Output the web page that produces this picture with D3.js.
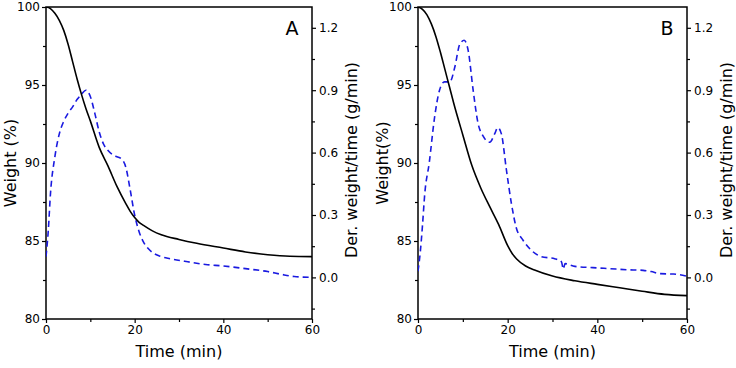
<!DOCTYPE html>
<html>
<head>
<meta charset="utf-8">
<script src="https://cdn.jsdelivr.net/npm/d3@7"></script>
<style>
  body { margin: 0; background: #fff; }
  text { font-family: "DejaVu Sans", Verdana, sans-serif; fill: #000; }
</style>
</head>
<body>
<div id="chart"></div>
<script>
// Panel A - weight loss (%) and derivative (g/min) vs time (min)
const timeWeightA = [0, 1, 2, 3, 4, 5, 6, 7, 8, 9, 10, 12, 14, 16, 18, 19, 20, 21, 22, 24, 26, 30, 34, 40, 45, 50, 55, 60];
const weightA = [100, 99.9, 99.6, 99.15, 98.5, 97.6, 96.5, 95.4, 94.4, 93.5, 92.7, 91.0, 89.8, 88.5, 87.4, 86.9, 86.5, 86.2, 86.0, 85.65, 85.4, 85.1, 84.85, 84.55, 84.3, 84.12, 84.02, 84.0];
const timeDerivA = [0, 0.5, 1, 2, 3, 4, 5, 6, 7, 8, 9, 10, 11, 12, 13, 14, 15, 16, 17, 18, 19, 20, 21, 22, 23, 24, 26, 28, 32, 36, 40, 45, 50, 53, 56, 60];
const derivA = [0.10, 0.22, 0.40, 0.58, 0.69, 0.75, 0.79, 0.82, 0.855, 0.88, 0.90, 0.87, 0.79, 0.70, 0.64, 0.61, 0.59, 0.58, 0.57, 0.53, 0.42, 0.30, 0.22, 0.17, 0.14, 0.12, 0.10, 0.09, 0.075, 0.062, 0.055, 0.042, 0.028, 0.015, 0.004, 0.0];

// Panel B
const timeWeightB = [0, 1, 2, 3, 4, 5, 6, 7, 8, 10, 12, 14, 16, 18, 20, 21, 22, 24, 26, 30, 35, 40, 45, 50, 55, 60];
const weightB = [100, 99.85, 99.5, 98.9, 98.1, 97.1, 96.0, 94.9, 93.8, 91.8, 89.85, 88.4, 87.2, 86.05, 84.7, 84.2, 83.85, 83.4, 83.14, 82.75, 82.45, 82.22, 82.0, 81.78, 81.58, 81.5];
const timeDerivB = [0, 0.5, 1, 1.5, 2.5, 3.7, 4.8, 5.9, 7.1, 8.2, 9.3, 10.3, 11.2, 12.3, 13.4, 14.5, 16, 17.1, 17.8, 18.6, 19.7, 20.8, 21.9, 23.4, 25.3, 27.5, 30.5, 32, 32.4, 32.8, 35, 39, 42.8, 46.5, 50.2, 52, 54, 57, 60];
const derivB = [0.03, 0.12, 0.25, 0.40, 0.55, 0.77, 0.90, 0.94, 0.94, 1.01, 1.12, 1.14, 1.09, 0.90, 0.74, 0.68, 0.65, 0.69, 0.72, 0.69, 0.52, 0.36, 0.24, 0.18, 0.13, 0.10, 0.09, 0.075, 0.04, 0.066, 0.053, 0.047, 0.042, 0.037, 0.034, 0.028, 0.018, 0.016, 0.006];

const xTicks = [0, 20, 40, 60];
const weightTicks = [80, 85, 90, 95, 100];
const derivTicks = [0.0, 0.3, 0.6, 0.9, 1.2];

const svg = d3.select("#chart").append("svg")
    .attr("width", 736)
    .attr("height", 368);

function drawPanel(opt) {
    const x = d3.scaleLinear().domain([0, 60]).range([opt.left, opt.right]);
    const yL = d3.scaleLinear().domain([80, 100]).range([319, 7]);
    const yR = d3.scaleLinear().domain([-0.2, 1.3]).range([319, 7]);
    const g = svg.append("g");

    // minor ticks
    g.append("g").attr("transform", "translate(0,319)")
        .call(d3.axisBottom(x).tickValues([10, 30, 50]).tickSize(3).tickFormat(""));
    g.append("g").attr("transform", "translate(" + opt.left + ",0)")
        .call(d3.axisLeft(yL).tickValues([82.5, 87.5, 92.5, 97.5]).tickSize(3).tickFormat(""));
    g.append("g").attr("transform", "translate(" + opt.right + ",0)")
        .call(d3.axisRight(yR).tickValues([-0.15, 0.15, 0.45, 0.75, 1.05]).tickSize(3).tickFormat(""));

    // major axes
    g.append("g").attr("transform", "translate(0,319)")
        .call(d3.axisBottom(x).tickValues(xTicks).tickSize(4).tickPadding(2));
    g.append("g").attr("transform", "translate(" + opt.left + ",0)")
        .call(d3.axisLeft(yL).tickValues(weightTicks).tickSize(4).tickPadding(2));
    g.append("g").attr("transform", "translate(" + opt.right + ",0)")
        .call(d3.axisRight(yR).tickValues(derivTicks).tickSize(4).tickPadding(3)
            .tickFormat(d3.format(".1f")));
    g.selectAll(".domain").remove();
    g.selectAll(".tick line").attr("stroke", "#000").attr("stroke-width", 1.2);
    g.selectAll(".tick text").style("font-size", "12px").style("font-family", "'DejaVu Sans', Verdana, sans-serif");

    // frame
    g.append("rect")
        .attr("x", opt.left).attr("y", 7)
        .attr("width", opt.right - opt.left).attr("height", 312)
        .attr("fill", "none").attr("stroke", "#000").attr("stroke-width", 1.5);

    // curves
    const clipId = "clip" + opt.letter;
    svg.append("clipPath").attr("id", clipId).append("rect")
        .attr("x", opt.left).attr("y", 7).attr("width", opt.right - opt.left).attr("height", 312);

    const wLine = d3.line().curve(d3.curveMonotoneX)
        .x((d, i) => x(opt.tW[i])).y(d => yL(d));
    const dLine = d3.line().curve(d3.curveMonotoneX)
        .x((d, i) => x(opt.tD[i])).y(d => yR(d));

    g.append("path")
        .datum(opt.dv)
        .attr("clip-path", "url(#" + clipId + ")")
        .attr("fill", "none")
        .attr("stroke", "#1a1ae0")
        .attr("stroke-width", 1.6)
        .attr("stroke-dasharray", "6,4")
        .attr("d", dLine);

    g.append("path")
        .datum(opt.w)
        .attr("clip-path", "url(#" + clipId + ")")
        .attr("fill", "none")
        .attr("stroke", "#000")
        .attr("stroke-width", 1.6)
        .attr("d", wLine);

    // labels
    g.append("text")
        .attr("x", (opt.left + opt.right) / 2).attr("y", 357)
        .attr("text-anchor", "middle").style("font-size", "16px")
        .text("Time (min)");
    g.append("text")
        .attr("transform", "translate(" + (opt.left - 30) + ",163) rotate(-90)")
        .attr("text-anchor", "middle").style("font-size", "16px")
        .text(opt.yLabel);
    g.append("text")
        .attr("transform", "translate(" + (opt.right + 45) + ",160) rotate(-90)")
        .attr("text-anchor", "middle").style("font-size", "16px")
        .text("Der. weight/time (g/min)");
    g.append("text")
        .attr("x", opt.right - 20).attr("y", 35)
        .attr("text-anchor", "middle").style("font-size", "19px")
        .text(opt.letter);
}

drawPanel({ left: 46, right: 312, letter: "A", yLabel: "Weight (%)",
    tW: timeWeightA, w: weightA, tD: timeDerivA, dv: derivA });
drawPanel({ left: 418, right: 687, letter: "B", yLabel: "Weight(%)",
    tW: timeWeightB, w: weightB, tD: timeDerivB, dv: derivB });
</script>
</body>
</html>
